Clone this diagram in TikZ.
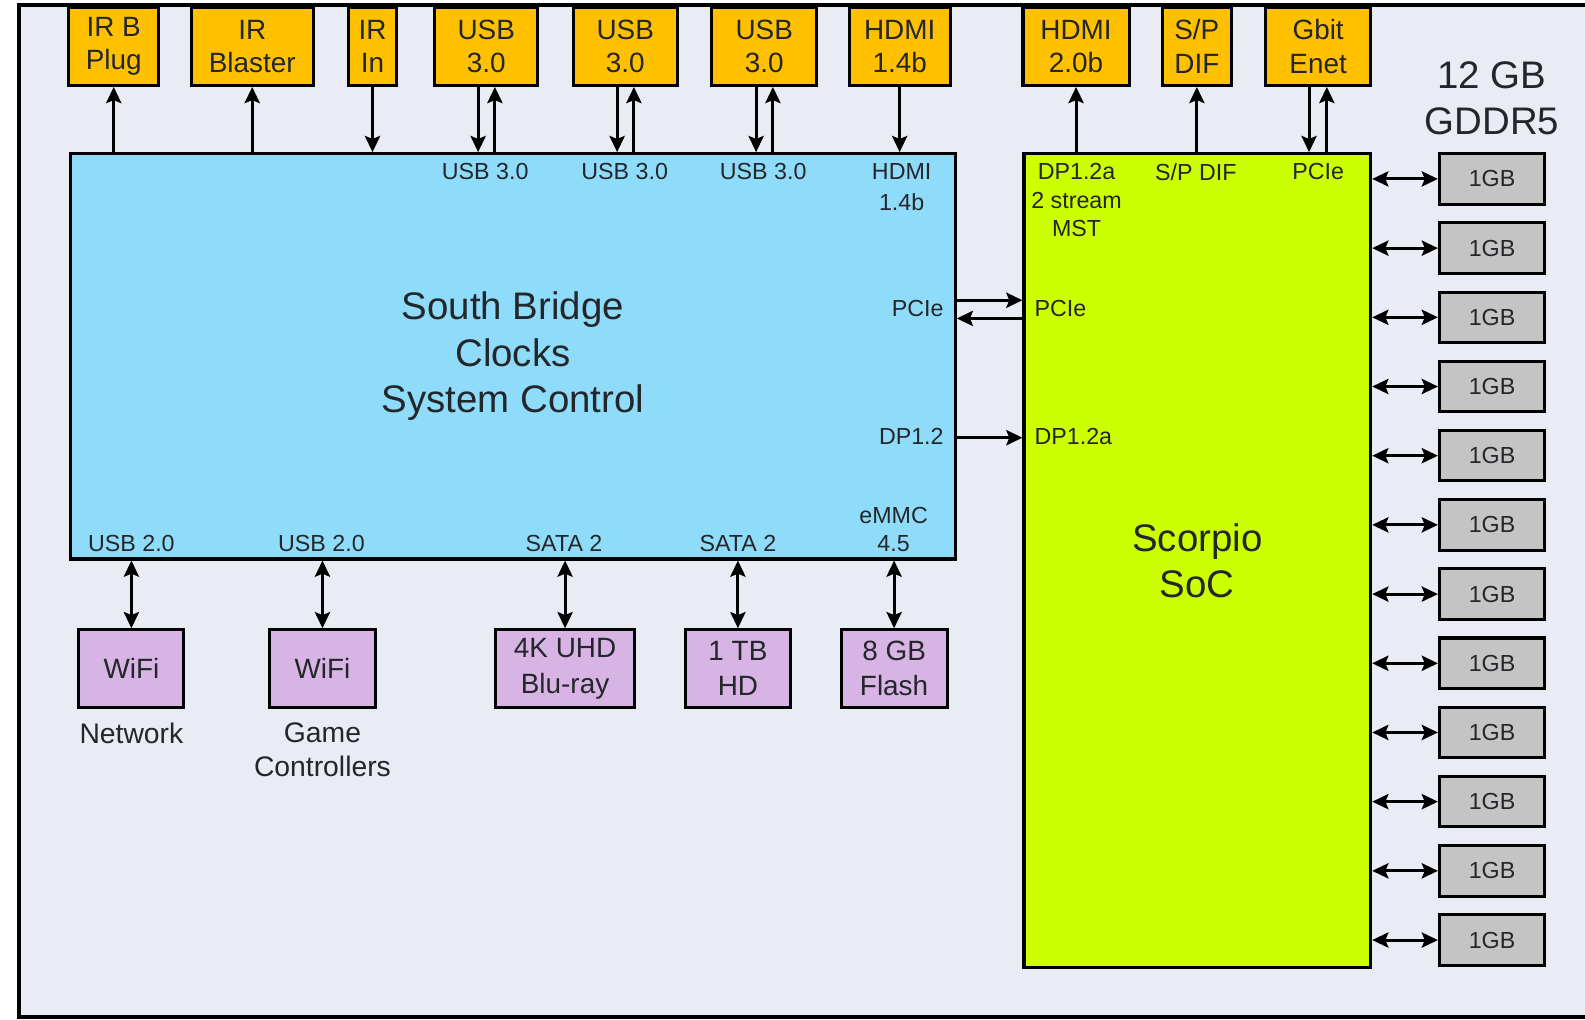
\documentclass[tikz,border=0pt]{standalone}
\usepackage{fontspec}
\setmainfont{Liberation Sans}
\usepackage{tikz}
\usetikzlibrary{shapes, calc, arrows.meta, positioning}

\definecolor{framebg}{RGB}{233,236,244}
\definecolor{sbblue}{RGB}{142,220,250}
\definecolor{soclime}{RGB}{204,255,0}
\definecolor{portorange}{RGB}{255,192,0}
\definecolor{devlilac}{RGB}{216,180,228}
\definecolor{memgrey}{RGB}{196,196,196}
\definecolor{ink}{RGB}{35,38,42}

\begin{document}
\begin{tikzpicture}[x=0.5pt,y=-0.5pt,>={Stealth[length=8pt,width=7.5pt,inset=1.5pt]},line width=1.5pt,node distance=6pt,text=ink,font=\fontsize{11.5}{14}\selectfont]
	\tikzset{box/.style={draw=black, line width=1.5pt, align=center, inner sep=0pt},
		port/.style={box, fill=portorange, minimum height=38.5pt, font=\fontsize{13.8}{16.5}\selectfont},
		dev/.style={box, fill=devlilac, minimum height=38.5pt, font=\fontsize{13.8}{17.5}\selectfont},
		mem/.style={box, fill=memgrey, minimum width=52pt, minimum height=25pt, font=\fontsize{11.5}{14}\selectfont},
		chip/.style={box, font=\fontsize{19}{23}\selectfont},
		pin/.style={inner sep=0pt, align=center},
		caption/.style={inner sep=0pt, align=center, font=\fontsize{14}{17}\selectfont}}

	\useasboundingbox (0,0) rectangle (1568,1009);
	\fill[framebg] (19,5) rectangle (1575,1006);
	\draw[line width=2pt] (1575,5) -- (19,5) -- (19,1006) -- (1575,1006);

	% chips
	\node[chip, fill=sbblue, minimum width=437.5pt, minimum height=200.5pt] (sb) at (507.5,352.5) {South Bridge\\Clocks\\System Control};
	\node[chip, fill=soclime, minimum width=171.5pt, minimum height=402.5pt] (soc) at (1184.5,554.5) {Scorpio\\SoC};

	% ports on top
	\node[port, minimum width=44.5pt] (irbplug) at (112.5,46) {IR B\\Plug};
	\node[port, minimum width=60.5pt] (irblaster) at (249.5,46) {IR\\Blaster};
	\node[port, minimum width=23.5pt] (irin) at (368.5,46) {IR\\In};
	\node[port, minimum width=51pt] (usbA) at (481,46) {USB\\3.0};
	\node[port, minimum width=51.5pt] (usbB) at (618.5,46) {USB\\3.0};
	\node[port, minimum width=52pt] (usbC) at (756,46) {USB\\3.0};
	\node[port, minimum width=50pt] (hdmiin) at (890,46) {HDMI\\1.4b};
	\node[port, minimum width=52.5pt] (hdmiout) at (1064.5,46) {HDMI\\2.0b};
	\node[port, minimum width=34pt] (spdif) at (1184,46) {S/P\\DIF};
	\node[port, minimum width=52pt] (enet) at (1304,46) {Gbit\\Enet};

	% devices below
	\node[dev, minimum width=52pt] (wifinet) at (130,661.5) {WiFi};
	\node[dev, minimum width=52pt] (wifipad) at (319,661.5) {WiFi};
	\node[dev, minimum width=69pt] (bluray) at (559,661.5) {4K UHD\\Blu-ray};
	\node[dev, minimum width=52pt] (hdd) at (730,661.5) {1 TB\\HD};
	\node[dev, minimum width=52.5pt] (flash) at (884.5,661.5) {8 GB\\Flash};
	\node[caption, below=6pt of wifinet] (netcap) {Network};
	\node[caption, below=6pt of wifipad] (padcap) {Game\\Controllers};

	% pin labels
	\node[pin] (sbusbA) at (480,170) {USB 3.0};
	\node[pin] (sbusbB) at (618,170) {USB 3.0};
	\node[pin] (sbusbC) at (755,170) {USB 3.0};
	\node[pin, font=\fontsize{11.5}{15}\selectfont] (sbhdmi) at (892,185) {HDMI\\1.4b};
	\node[pin, anchor=east] (sbpcie) at (935,305) {PCIe};
	\node[pin, anchor=east] (sbdp) at (935,432) {DP1.2};
	\node[pin] (sbusb2A) at (130,538) {USB 2.0};
	\node[pin] (sbusb2B) at (318,538) {USB 2.0};
	\node[pin] (sbsataA) at (558,538) {SATA 2};
	\node[pin] (sbsataB) at (730,538) {SATA 2};
	\node[pin] (sbemmc) at (884,524) {eMMC\\4.5};
	\node[pin] (socdp) at (1065,198) {DP1.2a\\2 stream\\MST};
	\node[pin] (socspdif) at (1183,170) {S/P DIF};
	\node[pin] (socpcietop) at (1304,170) {PCIe};
	\node[pin, anchor=west] (socpcie) at (1022,305) {PCIe};
	\node[pin, anchor=west] (socdpin) at (1022,432) {DP1.2a};

	% memory
	\node[caption, font=\fontsize{19}{22.5}\selectfont] (gddr) at (1476,97) {12 GB\\GDDR5};
	\foreach \i in {0,...,11}{
		\node[mem] (mem\i) at (1476,{177+68.45*\i}) {1GB};
		\draw[<->] (soc.east |- mem\i.west) -- (mem\i.west);
	}

	% connectors
	\draw[->] (irbplug.south |- sb.north) -- (irbplug.south);
	\draw[->] (irblaster.south |- sb.north) -- (irblaster.south);
	\draw[->] (irin.south) -- (irin.south |- sb.north);
	\foreach \p in {usbA,usbB,usbC}{
		\draw[->] ([xshift=-4pt]\p.south) -- ([xshift=-4pt]\p.south |- sb.north);
		\draw[->] ([xshift=4.3pt]\p.south |- sb.north) -- ([xshift=4.3pt]\p.south);
	}
	\draw[->] (hdmiin.south) -- (hdmiin.south |- sb.north);
	\draw[->] (hdmiout.south |- soc.north) -- (hdmiout.south);
	\draw[->] (spdif.south |- soc.north) -- (spdif.south);
	\draw[->] ([xshift=-4.5pt]enet.south) -- ([xshift=-4.5pt]enet.south |- soc.north);
	\draw[->] ([xshift=4.3pt]enet.south |- soc.north) -- ([xshift=4.3pt]enet.south);
	\draw[->] (sb.east |- 0,297) -- (soc.west |- 0,297);
	\draw[->] (soc.west |- 0,315) -- (sb.east |- 0,315);
	\draw[->] (sb.east |- 0,433) -- (soc.west |- 0,433);
	\foreach \d in {wifinet,wifipad,bluray,hdd,flash}
		\draw[<->] (\d.north |- sb.south) -- (\d.north);
\end{tikzpicture}
\end{document}
